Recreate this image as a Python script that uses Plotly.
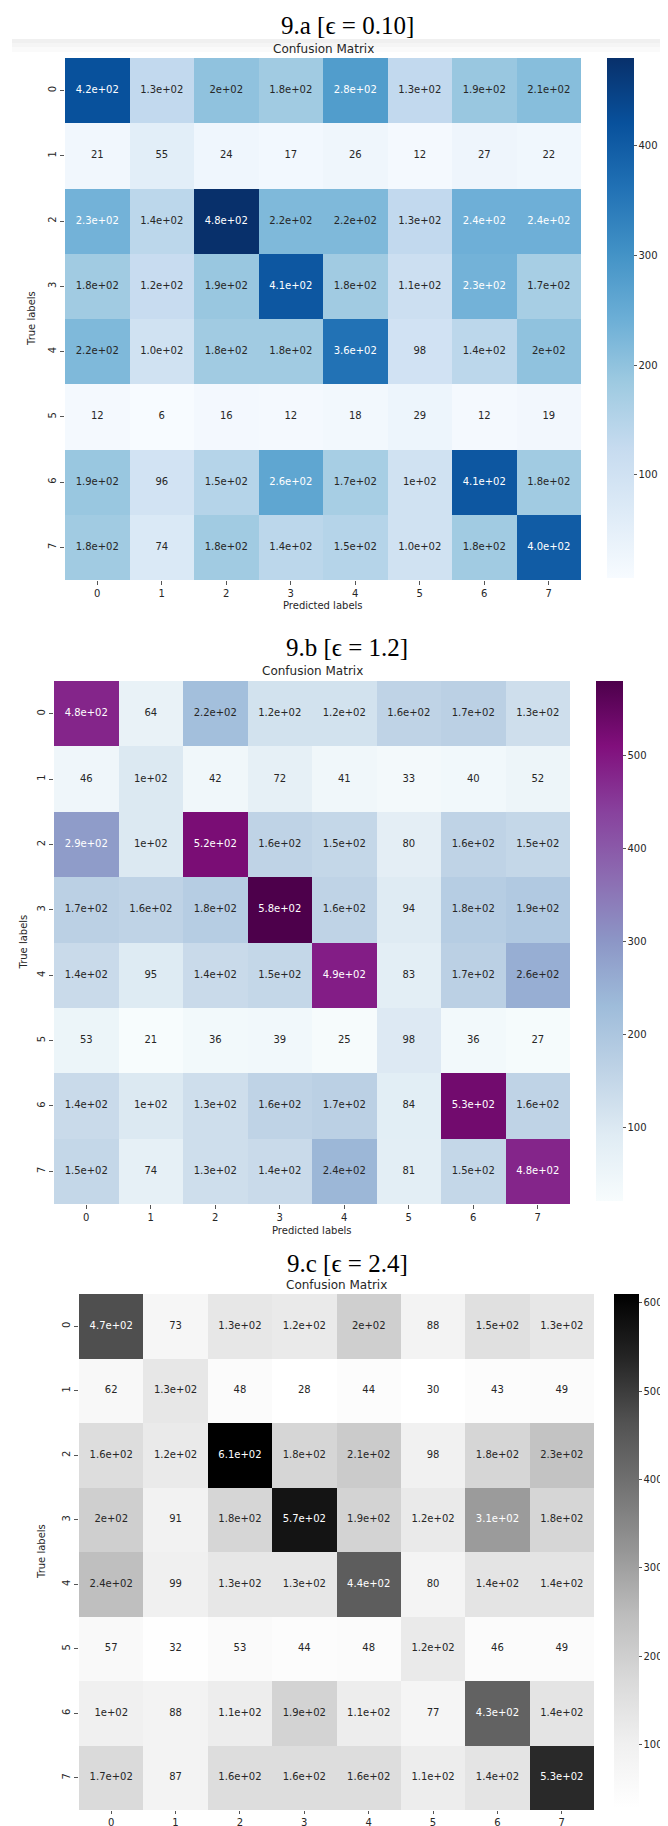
import plotly.graph_objects as go

W, H = 668, 1826

classes = [0, 1, 2, 3, 4, 5, 6, 7]
tick_labels = ["0", "1", "2", "3", "4", "5", "6", "7"]

# ---- 9.a  (epsilon = 0.10) ----
values_a = [
    [420, 130, 200, 180, 280, 130, 190, 210],
    [21, 55, 24, 17, 26, 12, 27, 22],
    [234, 140, 480, 220, 220, 130, 240, 240],
    [180, 120, 190, 410, 180, 110, 234, 170],
    [220, 100, 180, 180, 360, 98, 140, 200],
    [12, 6, 16, 12, 18, 29, 12, 19],
    [190, 96, 150, 260, 170, 100, 410, 180],
    [180, 74, 180, 140, 150, 100, 180, 400],
]
text_a = [
    ["4.2e+02", "1.3e+02", "2e+02", "1.8e+02", "2.8e+02", "1.3e+02", "1.9e+02", "2.1e+02"],
    ["21", "55", "24", "17", "26", "12", "27", "22"],
    ["2.3e+02", "1.4e+02", "4.8e+02", "2.2e+02", "2.2e+02", "1.3e+02", "2.4e+02", "2.4e+02"],
    ["1.8e+02", "1.2e+02", "1.9e+02", "4.1e+02", "1.8e+02", "1.1e+02", "2.3e+02", "1.7e+02"],
    ["2.2e+02", "1.0e+02", "1.8e+02", "1.8e+02", "3.6e+02", "98", "1.4e+02", "2e+02"],
    ["12", "6", "16", "12", "18", "29", "12", "19"],
    ["1.9e+02", "96", "1.5e+02", "2.6e+02", "1.7e+02", "1e+02", "4.1e+02", "1.8e+02"],
    ["1.8e+02", "74", "1.8e+02", "1.4e+02", "1.5e+02", "1.0e+02", "1.8e+02", "4.0e+02"],
]

# ---- 9.b  (epsilon = 1.2) ----
values_b = [
    [480, 64, 220, 120, 120, 160, 170, 130],
    [46, 100, 42, 72, 41, 33, 40, 52],
    [290, 100, 520, 160, 150, 80, 160, 150],
    [170, 160, 180, 580, 160, 94, 180, 190],
    [140, 95, 140, 150, 490, 83, 170, 256],
    [53, 21, 36, 39, 25, 98, 36, 27],
    [140, 100, 130, 160, 170, 84, 530, 160],
    [150, 74, 130, 140, 240, 81, 150, 480],
]
text_b = [
    ["4.8e+02", "64", "2.2e+02", "1.2e+02", "1.2e+02", "1.6e+02", "1.7e+02", "1.3e+02"],
    ["46", "1e+02", "42", "72", "41", "33", "40", "52"],
    ["2.9e+02", "1e+02", "5.2e+02", "1.6e+02", "1.5e+02", "80", "1.6e+02", "1.5e+02"],
    ["1.7e+02", "1.6e+02", "1.8e+02", "5.8e+02", "1.6e+02", "94", "1.8e+02", "1.9e+02"],
    ["1.4e+02", "95", "1.4e+02", "1.5e+02", "4.9e+02", "83", "1.7e+02", "2.6e+02"],
    ["53", "21", "36", "39", "25", "98", "36", "27"],
    ["1.4e+02", "1e+02", "1.3e+02", "1.6e+02", "1.7e+02", "84", "5.3e+02", "1.6e+02"],
    ["1.5e+02", "74", "1.3e+02", "1.4e+02", "2.4e+02", "81", "1.5e+02", "4.8e+02"],
]

# ---- 9.c  (epsilon = 2.4) ----
values_c = [
    [470, 73, 130, 120, 200, 88, 150, 130],
    [62, 130, 48, 28, 44, 30, 43, 49],
    [160, 120, 610, 180, 210, 98, 180, 230],
    [200, 91, 180, 570, 190, 120, 310, 180],
    [240, 99, 130, 130, 440, 80, 140, 140],
    [57, 32, 53, 44, 48, 120, 46, 49],
    [100, 88, 110, 190, 110, 77, 430, 140],
    [170, 87, 160, 160, 160, 110, 140, 530],
]
text_c = [
    ["4.7e+02", "73", "1.3e+02", "1.2e+02", "2e+02", "88", "1.5e+02", "1.3e+02"],
    ["62", "1.3e+02", "48", "28", "44", "30", "43", "49"],
    ["1.6e+02", "1.2e+02", "6.1e+02", "1.8e+02", "2.1e+02", "98", "1.8e+02", "2.3e+02"],
    ["2e+02", "91", "1.8e+02", "5.7e+02", "1.9e+02", "1.2e+02", "3.1e+02", "1.8e+02"],
    ["2.4e+02", "99", "1.3e+02", "1.3e+02", "4.4e+02", "80", "1.4e+02", "1.4e+02"],
    ["57", "32", "53", "44", "48", "1.2e+02", "46", "49"],
    ["1e+02", "88", "1.1e+02", "1.9e+02", "1.1e+02", "77", "4.3e+02", "1.4e+02"],
    ["1.7e+02", "87", "1.6e+02", "1.6e+02", "1.6e+02", "1.1e+02", "1.4e+02", "5.3e+02"],
]

ticks_a = [100, 200, 300, 400]
ticks_b = [100, 200, 300, 400, 500]
ticks_c = [100, 200, 300, 400, 500, 600]

titles = ["9.a [ϵ = 0.10]", "9.b [ϵ = 1.2]", "9.c [ϵ = 2.4]"]

BLUES = ["#f7fbff", "#deebf7", "#c6dbef", "#9ecae1", "#6baed6", "#4292c6", "#2171b5", "#08519c", "#08306b"]
BUPU = ["#f7fcfd", "#e0ecf4", "#bfd3e6", "#9ebcda", "#8c96c6", "#8c6bb1", "#88419d", "#810f7c", "#4d004b"]
GREYS = ["#ffffff", "#f0f0f0", "#d9d9d9", "#bdbdbd", "#969696", "#737373", "#525252", "#252525", "#000000"]


def hex_rgb(h):
    h = h.lstrip("#")
    return [int(h[i:i + 2], 16) for i in (0, 2, 4)]


def make_scale(cols):
    n = len(cols) - 1
    return [[i / n, c] for i, c in enumerate(cols)]


def interp(cols, t):
    t = min(max(t, 0.0), 1.0)
    n = len(cols) - 1
    k = min(int(t * n), n - 1)
    f = t * n - k
    a, b = hex_rgb(cols[k]), hex_rgb(cols[k + 1])
    return [a[i] + (b[i] - a[i]) * f for i in range(3)]


def rel_lum(rgb):
    out = []
    for c in rgb:
        c = c / 255.0
        out.append(c / 12.92 if c <= 0.03928 else ((c + 0.055) / 1.055) ** 2.4)
    return 0.2126 * out[0] + 0.7152 * out[1] + 0.0722 * out[2]


def px_x(p):
    return p / W


def px_y(p):
    return 1 - p / H


panels = [
    dict(values=values_a, text=text_a, cols=BLUES, ticks=ticks_a,
         hx=(57, 573), hy=(50, 572), cb=(599, 50, 570), cbt=27, tl=4,
         title_y=18, cm_y=41, xl_y=597, yl_x=23),
    dict(values=values_b, text=text_b, cols=BUPU, ticks=ticks_b,
         hx=(46, 562), hy=(673, 1196), cb=(588, 673, 1193), cbt=27, tl=4,
         title_y=640, cm_y=663, xl_y=1222, yl_x=15),
    dict(values=values_c, text=text_c, cols=GREYS, ticks=ticks_c,
         hx=(71, 586), hy=(1286, 1802), cb=(606, 1286, 1800), cbt=25, tl=3,
         title_y=1255, cm_y=1277, xl_y=None, yl_x=33),
]

fig = go.Figure()
annotations = []
layout_axes = {}
TXT = "#262626"

for i, p in enumerate(panels):
    n = i + 1
    xa = "x" if n == 1 else f"x{n}"
    ya = "y" if n == 1 else f"y{n}"
    vals = p["values"]
    zmin = min(min(r) for r in vals)
    zmax = max(max(r) for r in vals)
    cx0, cy0, cy1 = p["cb"]
    fig.add_trace(go.Heatmap(
        z=vals, x=classes, y=classes,
        colorscale=make_scale(p["cols"]), zmin=zmin, zmax=zmax,
        xaxis=xa, yaxis=ya, hoverinfo="skip", xgap=0, ygap=0,
        colorbar=dict(
            x=px_x(cx0), xanchor="left", xpad=0,
            y=px_y((cy0 + cy1) / 2), yanchor="middle", ypad=0,
            len=cy1 - cy0, lenmode="pixels",
            thickness=p["cbt"], thicknessmode="pixels",
            outlinewidth=0, ticks="outside", ticklen=3, tickwidth=1,
            tickcolor="#555555", tickvals=p["ticks"],
            ticklabeloverflow="allow",
            tickfont=dict(family="DejaVu Sans", size=10, color=TXT),
        ),
    ))
    xs, ys, ts, cs = [], [], [], []
    for r in classes:
        for c in classes:
            v = vals[r][c]
            rgb = interp(p["cols"], (v - zmin) / (zmax - zmin))
            xs.append(c)
            ys.append(r)
            ts.append(p["text"][r][c])
            cs.append(TXT if rel_lum(rgb) > 0.408 else "#ffffff")
    fig.add_trace(go.Scatter(
        x=xs, y=ys, text=ts, mode="text", xaxis=xa, yaxis=ya,
        textfont=dict(family="DejaVu Sans", size=10, color=cs),
        hoverinfo="skip", showlegend=False, cliponaxis=False,
    ))
    hx0, hx1 = p["hx"]
    hy0, hy1 = p["hy"]
    key = "" if n == 1 else str(n)
    layout_axes["xaxis" + key] = dict(
        domain=[px_x(hx0), px_x(hx1)], anchor=ya, range=[-0.5, 7.5],
        tickvals=classes, ticktext=tick_labels, ticks="outside", ticklen=p["tl"],
        tickcolor="#555555", showgrid=False, zeroline=False, showline=False,
        ticklabeloverflow="allow", ticklabelstandoff=0,
        tickfont=dict(family="DejaVu Sans", size=10, color=TXT), fixedrange=True,
    )
    layout_axes["yaxis" + key] = dict(
        domain=[px_y(hy1), px_y(hy0)], anchor=xa, range=[7.5, -0.5],
        tickvals=classes, ticktext=tick_labels, ticks="outside", ticklen=4,
        tickcolor="#555555", tickangle=-90, showgrid=False, zeroline=False, showline=False,
        tickfont=dict(family="DejaVu Sans", size=10, color=TXT), fixedrange=True,
    )
    mid = (hx0 + hx1) / 2
    annotations.append(dict(
        text=titles[i], x=px_x(339), y=px_y(p["title_y"]), xref="paper", yref="paper",
        xanchor="center", yanchor="middle", showarrow=False,
        font=dict(family="Liberation Serif", size=25, color="#000000"),
    ))
    annotations.append(dict(
        text="Confusion Matrix", x=px_x(mid), y=px_y(p["cm_y"]), xref="paper", yref="paper",
        xanchor="center", yanchor="middle", showarrow=False,
        font=dict(family="DejaVu Sans", size=12, color=TXT),
    ))
    if p["xl_y"] is not None:
        annotations.append(dict(
            text="Predicted labels", x=px_x(mid), y=px_y(p["xl_y"]), xref="paper", yref="paper",
            xanchor="center", yanchor="middle", showarrow=False,
            font=dict(family="DejaVu Sans", size=10, color=TXT),
        ))
    annotations.append(dict(
        text="True labels", x=px_x(p["yl_x"]), y=px_y((hy0 + hy1) / 2), xref="paper", yref="paper",
        xanchor="center", yanchor="middle", showarrow=False, textangle=-90,
        font=dict(family="DejaVu Sans", size=10, color=TXT),
    ))

shapes = []
for (y0, y1, col) in [(31, 35, "#f0f0f0"), (35, 39, "#f5f5f5"), (39, 44, "#fafafa")]:
    shapes.append(dict(type="rect", xref="paper", yref="paper",
                       x0=px_x(4), x1=1, y0=px_y(y1), y1=px_y(y0),
                       fillcolor=col, line=dict(width=0), layer="below"))

fig.update_layout(
    width=W, height=H, margin=dict(l=0, r=0, t=0, b=0),
    paper_bgcolor="#ffffff", plot_bgcolor="#ffffff",
    showlegend=False, annotations=annotations, shapes=shapes,
    **layout_axes,
)

fig.write_html("out.html")
